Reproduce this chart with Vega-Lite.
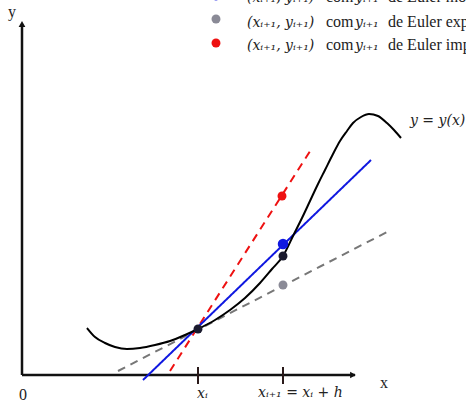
{
  "$schema": "https://vega.github.io/schema/vega-lite/v6.json",
  "width": 466,
  "height": 402,
  "autosize": {"type": "none"},
  "padding": 0,
  "background": "white",
  "config": {"view": {"stroke": null}},
  "resolve": {"scale": {"color": "independent", "strokeDash": "independent", "size": "independent"}},
  "datasets": {
    "axes": [
      {"x": 0, "y": 0, "x2": 333, "y2": 0},
      {"x": 0, "y": 0, "x2": 0, "y2": 350}
    ],
    "arrows": [
      {"x": 331, "y": 0, "shape": "triangle-right"},
      {"x": 0, "y": 351, "shape": "triangle-up"}
    ],
    "ticks": [
      {"x": 176, "y": 8, "y2": -9},
      {"x": 261, "y": 8, "y2": -9}
    ],
    "curve": [
      {"x": 65, "y": 47}, {"x": 73, "y": 38}, {"x": 83, "y": 32}, {"x": 93, "y": 28},
      {"x": 105, "y": 26}, {"x": 118, "y": 27}, {"x": 133, "y": 30}, {"x": 148, "y": 34},
      {"x": 163, "y": 40}, {"x": 176, "y": 46}, {"x": 193, "y": 55}, {"x": 208, "y": 65},
      {"x": 223, "y": 77}, {"x": 238, "y": 92}, {"x": 250, "y": 106}, {"x": 261, "y": 119},
      {"x": 272, "y": 141}, {"x": 280, "y": 157}, {"x": 288, "y": 174}, {"x": 296, "y": 191},
      {"x": 303, "y": 205}, {"x": 311, "y": 221}, {"x": 318, "y": 234}, {"x": 325, "y": 244},
      {"x": 331, "y": 252}, {"x": 339, "y": 258}, {"x": 347, "y": 261}, {"x": 356, "y": 259},
      {"x": 365, "y": 252}, {"x": 372, "y": 245}, {"x": 379, "y": 237}
    ],
    "tangents": [
      {"series": "explicito", "x": 96, "y": 4},
      {"series": "explicito", "x": 365, "y": 143},
      {"series": "implicito", "x": 148, "y": 4},
      {"series": "implicito", "x": 290, "y": 227},
      {"series": "trapezio", "x": 121, "y": -5},
      {"series": "trapezio", "x": 349, "y": 215}
    ],
    "points": [
      {"name": "exato_i", "x": 176, "y": 46, "size": 80},
      {"name": "exato_i1", "x": 261, "y": 119, "size": 80},
      {"name": "trapezio", "x": 261, "y": 131, "size": 110},
      {"name": "explicito", "x": 261, "y": 90, "size": 80},
      {"name": "implicito", "x": 260, "y": 179, "size": 80},
      {"name": "trapezio", "x": 194, "y": 379, "size": 80},
      {"name": "explicito", "x": 194, "y": 356, "size": 80},
      {"name": "implicito", "x": 194, "y": 332, "size": 80}
    ],
    "mathText": [
      {"x": 225, "y": 373, "text": "(xᵢ₊₁, yᵢ₊₁)"},
      {"x": 333, "y": 373, "text": "yᵢ₊₁"},
      {"x": 225, "y": 348, "text": "(xᵢ₊₁, yᵢ₊₁)"},
      {"x": 333, "y": 348, "text": "yᵢ₊₁"},
      {"x": 225, "y": 325, "text": "(xᵢ₊₁, yᵢ₊₁)"},
      {"x": 333, "y": 325, "text": "yᵢ₊₁"},
      {"x": 388, "y": 250, "text": "y = y(x)"},
      {"x": 175, "y": -23, "text": "xᵢ"},
      {"x": 236, "y": -22, "text": "xᵢ₊₁ = xᵢ + h"}
    ],
    "plainText": [
      {"x": 304, "y": 373, "text": "com"},
      {"x": 366, "y": 373, "text": "de Euler modificado"},
      {"x": 304, "y": 348, "text": "com"},
      {"x": 366, "y": 348, "text": "de Euler explícito"},
      {"x": 304, "y": 325, "text": "com"},
      {"x": 366, "y": 325, "text": "de Euler implícito"},
      {"x": 358, "y": -13, "text": "x"},
      {"x": -14, "y": 358, "text": "y"},
      {"x": -3, "y": -25, "text": "0"}
    ]
  },
  "layer": [
    {
      "data": {"name": "axes"},
      "mark": {"type": "rule", "color": "#111111", "strokeWidth": 2.5},
      "encoding": {
        "x": {"field": "x", "type": "quantitative", "scale": {"domain": [-22, 444], "nice": false, "zero": false}, "axis": null},
        "y": {"field": "y", "type": "quantitative", "scale": {"domain": [-27, 375], "nice": false, "zero": false}, "axis": null},
        "x2": {"field": "x2"},
        "y2": {"field": "y2"}
      }
    },
    {
      "data": {"name": "arrows"},
      "mark": {"type": "point", "filled": true, "color": "#111111", "opacity": 1, "size": 45},
      "encoding": {
        "x": {"field": "x", "type": "quantitative"},
        "y": {"field": "y", "type": "quantitative"},
        "shape": {"field": "shape", "type": "nominal", "scale": null}
      }
    },
    {
      "data": {"name": "ticks"},
      "mark": {"type": "rule", "color": "#2a1a1a", "strokeWidth": 2},
      "encoding": {
        "x": {"field": "x", "type": "quantitative"},
        "y": {"field": "y", "type": "quantitative"},
        "y2": {"field": "y2"}
      }
    },
    {
      "data": {"name": "tangents"},
      "mark": {"type": "line", "strokeWidth": 2},
      "encoding": {
        "x": {"field": "x", "type": "quantitative"},
        "y": {"field": "y", "type": "quantitative"},
        "detail": {"field": "series"},
        "color": {"field": "series", "type": "nominal", "legend": null,
          "scale": {"domain": ["explicito", "implicito", "trapezio"], "range": ["#777777", "#ee1111", "#1018e0"]}},
        "strokeDash": {"field": "series", "type": "nominal", "legend": null,
          "scale": {"domain": ["explicito", "implicito", "trapezio"], "range": [[8, 6], [8, 6], [1, 0]]}}
      }
    },
    {
      "data": {"name": "curve"},
      "mark": {"type": "line", "color": "#000000", "strokeWidth": 2, "interpolate": "monotone"},
      "encoding": {
        "x": {"field": "x", "type": "quantitative"},
        "y": {"field": "y", "type": "quantitative"}
      }
    },
    {
      "data": {"name": "points"},
      "mark": {"type": "circle", "opacity": 1},
      "encoding": {
        "x": {"field": "x", "type": "quantitative"},
        "y": {"field": "y", "type": "quantitative"},
        "size": {"field": "size", "type": "quantitative", "scale": null},
        "color": {"field": "name", "type": "nominal", "legend": null,
          "scale": {"domain": ["exato_i", "exato_i1", "trapezio", "explicito", "implicito"],
                    "range": ["#1a1a2e", "#1a1a2e", "#1018e0", "#8a8a96", "#ee1111"]}}
      }
    },
    {
      "data": {"name": "mathText"},
      "mark": {"type": "text", "font": "DejaVu Serif", "fontStyle": "italic", "fontSize": 14, "color": "#222222", "baseline": "alphabetic", "align": "left"},
      "encoding": {
        "x": {"field": "x", "type": "quantitative"},
        "y": {"field": "y", "type": "quantitative"},
        "text": {"field": "text"}
      }
    },
    {
      "data": {"name": "plainText"},
      "mark": {"type": "text", "font": "Liberation Serif", "fontSize": 16, "color": "#222222", "baseline": "alphabetic", "align": "left"},
      "encoding": {
        "x": {"field": "x", "type": "quantitative"},
        "y": {"field": "y", "type": "quantitative"},
        "text": {"field": "text"}
      }
    }
  ]
}
